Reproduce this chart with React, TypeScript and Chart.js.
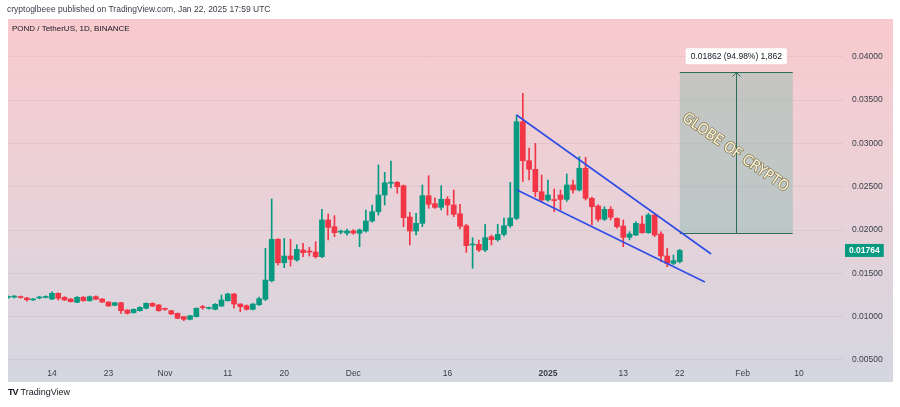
import React, { useEffect, useRef } from 'react';
import { Chart, registerables } from 'chart.js';

Chart.register(...registerables);

// ---- data (daily candles, POND/USDT, from 2024-10-07) ----
const startDate = '2024-10-07';
const opens = [
  0.01222, 0.01225, 0.01228, 0.01215, 0.01192, 0.01215, 0.01222, 0.01203, 0.01269, 0.01223,
  0.01203, 0.01165, 0.01223, 0.01183, 0.01230, 0.01203, 0.01168, 0.01130, 0.01160, 0.01076,
  0.01045, 0.01068, 0.01096, 0.01153, 0.01134, 0.01088, 0.01068, 0.01038, 0.00999, 0.00969,
  0.00999, 0.01107, 0.01094, 0.01084, 0.01122, 0.01183, 0.01261, 0.01145, 0.01126, 0.01084,
  0.01137, 0.01200, 0.01414, 0.01893, 0.01622, 0.01700, 0.01654, 0.01769, 0.01750, 0.01746,
  0.01692, 0.02116, 0.02038, 0.01975, 0.01965, 0.01989, 0.01962, 0.01988, 0.02104, 0.02211,
  0.02404, 0.02540, 0.02551, 0.02512, 0.02150, 0.01988, 0.02077, 0.02396, 0.02304, 0.02262,
  0.02355, 0.02289, 0.02188, 0.02050, 0.01827, 0.01835, 0.01769, 0.01923, 0.01888, 0.01950,
  0.02050, 0.02135, 0.03251, 0.02800, 0.02701, 0.02442, 0.02347, 0.02350, 0.02404, 0.02354,
  0.02520, 0.02462, 0.02713, 0.02366, 0.02277, 0.02124, 0.02239, 0.02135, 0.02046, 0.01916,
  0.01942, 0.02069, 0.01969, 0.02173, 0.01954, 0.01700, 0.01615, 0.01634,
];
const highs = [
  0.01240, 0.01245, 0.01238, 0.01222, 0.01210, 0.01235, 0.01240, 0.01285, 0.01275, 0.01230,
  0.01208, 0.01230, 0.01232, 0.01238, 0.01240, 0.01208, 0.01172, 0.01165, 0.01165, 0.01080,
  0.01090, 0.01112, 0.01160, 0.01160, 0.01140, 0.01098, 0.01072, 0.01042, 0.01002, 0.01015,
  0.01100, 0.01130, 0.01110, 0.01150, 0.01249, 0.01270, 0.01268, 0.01150, 0.01135, 0.01150,
  0.01225, 0.01789, 0.02358, 0.01900, 0.01904, 0.01893, 0.01830, 0.01846, 0.01800, 0.01865,
  0.02239, 0.02185, 0.02165, 0.02000, 0.02010, 0.02005, 0.02010, 0.02231, 0.02289, 0.02751,
  0.02666, 0.02797, 0.02560, 0.02520, 0.02204, 0.02193, 0.02520, 0.02627, 0.02373, 0.02512,
  0.02385, 0.02462, 0.02297, 0.02066, 0.01911, 0.01885, 0.02066, 0.01942, 0.02066, 0.02139,
  0.02550, 0.03328, 0.03579, 0.02947, 0.03001, 0.02635, 0.02578, 0.02474, 0.02462, 0.02647,
  0.02578, 0.02847, 0.02840, 0.02380, 0.02290, 0.02269, 0.02270, 0.02140, 0.02116, 0.01980,
  0.02096, 0.02162, 0.02193, 0.02193, 0.01980, 0.01789, 0.01711, 0.01777,
];
const lows = [
  0.01210, 0.01215, 0.01212, 0.01178, 0.01188, 0.01205, 0.01215, 0.01195, 0.01190, 0.01185,
  0.01168, 0.01160, 0.01178, 0.01178, 0.01195, 0.01162, 0.01118, 0.01125, 0.01038, 0.01030,
  0.01040, 0.01062, 0.01090, 0.01115, 0.01062, 0.01072, 0.01025, 0.00975, 0.00952, 0.00962,
  0.00995, 0.01085, 0.01085, 0.01078, 0.01118, 0.01178, 0.01096, 0.01057, 0.01075, 0.01078,
  0.01130, 0.01185, 0.01400, 0.01596, 0.01565, 0.01584, 0.01640, 0.01692, 0.01700, 0.01677,
  0.01680, 0.01885, 0.01923, 0.01955, 0.01940, 0.01950, 0.01807, 0.01975, 0.02090, 0.02173,
  0.02289, 0.02485, 0.02424, 0.02038, 0.01827, 0.01942, 0.02038, 0.02251, 0.02250, 0.02231,
  0.02173, 0.02154, 0.02012, 0.01742, 0.01558, 0.01749, 0.01750, 0.01827, 0.01870, 0.01930,
  0.02030, 0.02120, 0.02560, 0.02578, 0.02385, 0.02327, 0.02330, 0.02211, 0.02231, 0.02330,
  0.02424, 0.02450, 0.02347, 0.02058, 0.02100, 0.02110, 0.02116, 0.02020, 0.01807, 0.01885,
  0.01935, 0.01960, 0.01960, 0.01923, 0.01634, 0.01576, 0.01600, 0.01620,
];
const closes = [
  0.01225, 0.01230, 0.01220, 0.01195, 0.01203, 0.01223, 0.01230, 0.01269, 0.01211, 0.01192,
  0.01172, 0.01223, 0.01183, 0.01230, 0.01200, 0.01168, 0.01122, 0.01160, 0.01068, 0.01038,
  0.01084, 0.01107, 0.01153, 0.01122, 0.01068, 0.01084, 0.01030, 0.00980, 0.00969, 0.01010,
  0.01096, 0.01103, 0.01098, 0.01142, 0.01192, 0.01261, 0.01145, 0.01114, 0.01084, 0.01145,
  0.01207, 0.01422, 0.01893, 0.01622, 0.01700, 0.01662, 0.01777, 0.01738, 0.01745, 0.01692,
  0.02116, 0.02031, 0.01969, 0.01980, 0.01989, 0.01965, 0.02000, 0.02104, 0.02211, 0.02404,
  0.02546, 0.02551, 0.02500, 0.02142, 0.01988, 0.02077, 0.02396, 0.02297, 0.02262, 0.02355,
  0.02289, 0.02181, 0.02043, 0.01819, 0.01830, 0.01769, 0.01911, 0.01888, 0.01950, 0.02050,
  0.02139, 0.03251, 0.02800, 0.02701, 0.02442, 0.02347, 0.02404, 0.02340, 0.02354, 0.02520,
  0.02462, 0.02713, 0.02366, 0.02269, 0.02124, 0.02239, 0.02147, 0.02038, 0.01916, 0.01954,
  0.02077, 0.01969, 0.02173, 0.01942, 0.01700, 0.01615, 0.01646, 0.01764,
];

// ---- axes ----
const xTickDates = [
  '2024-10-14', '2024-10-23', '2024-11-01', '2024-11-11', '2024-11-20', '2024-12-01',
  '2024-12-16', '2025-01-01', '2025-01-13', '2025-01-22', '2025-02-01', '2025-02-10',
];
const xTickLabels = ['14', '23', 'Nov', '11', '20', 'Dec', '16', '2025', '13', '22', 'Feb', '10'];
const xViewEnd = '2025-02-17';
const yMin = 0.00464;
const yMax = 0.04437;
const yStep = 0.005;

// ---- drawings ----
const upperTrend = { dates: ['2024-12-27', '2025-01-27'], prices: [0.03328, 0.01723] };
const lowerTrend = { dates: ['2024-12-27', '2025-01-26'], prices: [0.02464, 0.01400] };
const rangeDates = ['2025-01-22', '2025-02-09'];
const rangeArrowDate = '2025-01-31';
const rangePrices = [0.019604, 0.038224];
const watermark = 'GLOBE OF CRYPTO';
const lastPrice = closes[closes.length - 1];

const GREEN = '#089981';
const RED = '#f23645';
const FONT = '"Liberation Sans", Arial, sans-serif';

const DAY = 86400000;
const dayIdx = (d: string) => Math.round((Date.parse(d) - Date.parse(startDate)) / DAY);
const xTickIdx = xTickDates.map(dayIdx);
const candleColors = closes.map((c, i) => (c >= opens[i] ? GREEN : RED));

const bgPlugin = {
  id: 'tvBackground',
  beforeDraw(chart: any) {
    const { ctx, width, height, chartArea } = chart;
    const yS = chart.scales.y;
    const xS = chart.scales.x;
    ctx.save();
    ctx.fillStyle = '#ffffff';
    ctx.fillRect(0, 0, width, height);
    const g = ctx.createLinearGradient(0, chartArea.top, 0, xS.bottom);
    g.addColorStop(0, '#f9cacd');
    g.addColorStop(0.45, '#ebd1d7');
    g.addColorStop(1, '#d4d6e0');
    ctx.fillStyle = g;
    ctx.fillRect(chartArea.left, chartArea.top, yS.right - chartArea.left, xS.bottom - chartArea.top);
    ctx.restore();
  },
};

const rangePlugin = {
  id: 'rangeTool',
  beforeDatasetsDraw(chart: any) {
    const { ctx } = chart;
    const xS = chart.scales.x;
    const yS = chart.scales.y;
    const x0 = xS.getPixelForValue(dayIdx(rangeDates[0]));
    const x1 = xS.getPixelForValue(dayIdx(rangeDates[1]));
    const xa = Math.round(xS.getPixelForValue(dayIdx(rangeArrowDate))) + 0.5;
    const yT = Math.round(yS.getPixelForValue(rangePrices[1])) + 0.5;
    const yB = Math.round(yS.getPixelForValue(rangePrices[0])) + 0.5;
    ctx.save();
    ctx.fillStyle = 'rgba(130,185,175,0.42)';
    ctx.fillRect(x0, yT, x1 - x0, yB - yT);
    ctx.strokeStyle = '#2f6b5a';
    ctx.lineWidth = 1;
    ctx.beginPath();
    ctx.moveTo(x0, yT); ctx.lineTo(x1, yT);
    ctx.moveTo(x0, yB); ctx.lineTo(x1, yB);
    ctx.moveTo(xa, yB); ctx.lineTo(xa, yT);
    ctx.moveTo(xa - 4, yT + 4); ctx.lineTo(xa, yT); ctx.lineTo(xa + 4, yT + 4);
    ctx.stroke();
    ctx.restore();
  },
  afterDraw(chart: any) {
    const { ctx } = chart;
    const xS = chart.scales.x;
    const yS = chart.scales.y;
    const xa = xS.getPixelForValue(dayIdx(rangeArrowDate));
    const yT = yS.getPixelForValue(rangePrices[1]);
    const yB = yS.getPixelForValue(rangePrices[0]);
    const diff = rangePrices[1] - rangePrices[0];
    const pct = (diff / rangePrices[0]) * 100;
    const ticks = Math.round(diff / 0.00001);
    const label = `${diff.toFixed(5)} (${pct.toFixed(2)}%) ${ticks.toLocaleString('en-US')}`;
    ctx.save();
    ctx.font = `8.5px ${FONT}`;
    const tw = ctx.measureText(label).width;
    const bw = tw + 10;
    const bh = 16;
    const bx = xa - bw / 2;
    const by = yT - 8 - bh;
    ctx.fillStyle = '#ffffff';
    ctx.beginPath();
    (ctx as any).roundRect(bx, by, bw, bh, 2);
    ctx.fill();
    ctx.fillStyle = '#131722';
    ctx.textAlign = 'center';
    ctx.textBaseline = 'middle';
    ctx.fillText(label, xa, by + bh / 2 + 0.5);

    // watermark
    const cy = (yT + yB) / 2;
    ctx.translate(xa - 1, cy);
    ctx.rotate((35 * Math.PI) / 180);
    ctx.font = `15px "Liberation Sans Narrow", "DejaVu Sans Condensed", ${FONT}`;
    ctx.textAlign = 'center';
    ctx.textBaseline = 'middle';
    ctx.lineJoin = 'round';
    ctx.strokeStyle = 'rgba(120,100,50,0.8)';
    ctx.lineWidth = 1.5;
    ctx.strokeText(watermark, 0, 0);
    ctx.fillStyle = '#fff8dc';
    ctx.fillText(watermark, 0, 0);
    ctx.restore();

    // last price tag
    const yP = yS.getPixelForValue(lastPrice);
    ctx.save();
    ctx.font = `bold 8.5px ${FONT}`;
    const lw = ctx.measureText(lastPrice.toFixed(5)).width + 8;
    const lx = yS.left + 2;
    ctx.fillStyle = GREEN;
    ctx.fillRect(lx, yP - 6.5, lw, 13);
    ctx.fillStyle = '#ffffff';
    ctx.textAlign = 'left';
    ctx.textBaseline = 'middle';
    ctx.fillText(lastPrice.toFixed(5), lx + 4, yP + 0.5);
    ctx.restore();
  },
};

export default function App() {
  const ref = useRef<HTMLCanvasElement | null>(null);

  useEffect(() => {
    if (!ref.current) return;
    const wicks = opens.map((_, i) => ({ x: i, y: [lows[i], highs[i]] }));
    const bodies = opens.map((o, i) => ({ x: i, y: [o, closes[i]] }));
    const chart = new Chart(ref.current, {
      type: 'bar',
      data: {
        datasets: [
          {
            type: 'line',
            data: upperTrend.dates.map((d, i) => ({ x: dayIdx(d), y: upperTrend.prices[i] })),
            borderColor: '#2f4ce6',
            borderWidth: 1.6,
            pointRadius: 0,
            order: 0,
          } as any,
          {
            type: 'line',
            data: lowerTrend.dates.map((d, i) => ({ x: dayIdx(d), y: lowerTrend.prices[i] })),
            borderColor: '#2f4ce6',
            borderWidth: 1.6,
            pointRadius: 0,
            order: 0,
          } as any,
          {
            data: wicks as any,
            backgroundColor: candleColors,
            barThickness: 1,
            grouped: false,
            order: 2,
          } as any,
          {
            data: bodies as any,
            backgroundColor: candleColors,
            barThickness: 5,
            minBarLength: 1,
            grouped: false,
            order: 1,
          } as any,
        ],
      },
      options: {
        animation: false,
        responsive: false,
        events: [],
        layout: { padding: { left: 8, top: 19, right: 7, bottom: 25 } },
        plugins: { legend: { display: false }, tooltip: { enabled: false } },
        scales: {
          x: {
            type: 'linear',
            offset: false,
            min: 0,
            max: dayIdx(xViewEnd),
            grid: { display: false, offset: false },
            border: { display: false },
            afterBuildTicks: (s: any) => {
              s.ticks = xTickIdx.map((v) => ({ value: v }));
            },
            afterFit: (s: any) => {
              s.height = 19;
            },
            ticks: {
              autoSkip: false,
              maxRotation: 0,
              padding: -2,
              color: '#3a3e4a',
              font: (c: any) =>
                ({
                  family: FONT,
                  size: 8.5,
                  weight: c.tick && xTickLabels[xTickIdx.indexOf(c.tick.value)] === '2025' ? 'bold' : 'normal',
                }) as any,
              callback: (v: any) => {
                const k = xTickIdx.indexOf(v);
                return k >= 0 ? xTickLabels[k] : '';
              },
            },
          },
          y: {
            type: 'linear',
            position: 'right',
            min: yMin,
            max: yMax,
            grid: { color: 'rgba(42,46,57,0.06)', drawTicks: false },
            border: { display: false },
            afterFit: (s: any) => {
              s.width = 50;
            },
            ticks: {
              stepSize: yStep,
              includeBounds: false,
              padding: 9,
              color: '#3a3e4a',
              font: { family: FONT, size: 8.5 },
              callback: (v: any) => Number(v).toFixed(5),
            },
          },
        },
      } as any,
      plugins: [bgPlugin, rangePlugin],
    });
    return () => chart.destroy();
  }, []);

  return (
    <div style={{ position: 'absolute', left: 0, top: 0, width: 900, height: 407, background: '#fff', overflow: 'hidden' }}>
      <canvas ref={ref} width={900} height={407} style={{ position: 'absolute', left: 0, top: 0, width: 900, height: 407 }} />
      <div style={{ position: 'absolute', left: 7, top: 4, font: `8.5px ${FONT}`, color: '#3a3e4a', whiteSpace: 'nowrap' }}>
        cryptoglbeee published on TradingView.com, Jan 22, 2025 17:59 UTC
      </div>
      <div style={{ position: 'absolute', left: 12, top: 24, font: `8px ${FONT}`, color: '#131722', whiteSpace: 'nowrap' }}>
        POND / TetherUS, 1D, BINANCE
      </div>
      <div style={{ position: 'absolute', left: 8, top: 387, font: `9px ${FONT}`, color: '#131722', whiteSpace: 'nowrap' }}>
        <span style={{ fontWeight: 900, letterSpacing: -1, marginRight: 3 }}>TV</span>TradingView
      </div>
    </div>
  );
}
